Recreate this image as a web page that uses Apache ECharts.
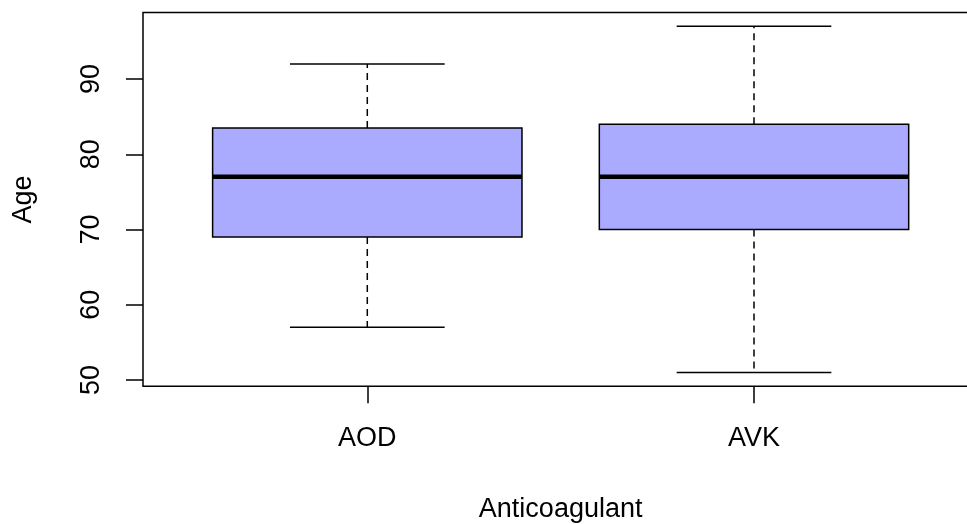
<!DOCTYPE html>
<html>
<head>
<meta charset="utf-8">
<script src="https://cdn.jsdelivr.net/npm/echarts@6/dist/echarts.min.js"></script>
<style>
  html, body { margin: 0; padding: 0; background: #fff; overflow: hidden; }
</style>
</head>
<body>
<!-- the plot frame runs past the right edge in the original, so the chart is a bit wider than the window -->
<div id="main" style="width:980px;height:524px;"></div>
<script>
// groups on the x axis (drawn at positions 1, 2)
const categories = ['AOD', 'AVK'];
// five-number summaries
const lowerWhisker = [57, 51];
const lowerQuartile = [69, 70];
const medians = [77, 77];
const upperQuartile = [83.5, 84];
const upperWhisker = [92, 97];
const yTicks = [50, 60, 70, 80, 90];

const font = '"Liberation Sans", Arial, sans-serif';

const boxData = categories.map(function (c, i) {
  return [i + 1, lowerWhisker[i], lowerQuartile[i], medians[i], upperQuartile[i], upperWhisker[i]];
});

function renderBox(params, api) {
  const x = api.value(0);
  const pMin = api.coord([x, api.value(1)]);
  const pQ1 = api.coord([x, api.value(2)]);
  const pMed = api.coord([x, api.value(3)]);
  const pQ3 = api.coord([x, api.value(4)]);
  const pMax = api.coord([x, api.value(5)]);
  const boxW = api.size([0.8, 0])[0];
  const capW = api.size([0.4, 0])[0];
  const cx = pMed[0];
  const dashed = { stroke: '#000', lineWidth: 1.5, lineDash: [7, 5] };
  const solid = { stroke: '#000', lineWidth: 1.5 };
  return {
    type: 'group',
    children: [
      { type: 'line', shape: { x1: cx, y1: pQ3[1], x2: cx, y2: pMax[1] }, style: dashed },
      { type: 'line', shape: { x1: cx, y1: pQ1[1], x2: cx, y2: pMin[1] }, style: dashed },
      { type: 'line', shape: { x1: cx - capW / 2, y1: pMax[1], x2: cx + capW / 2, y2: pMax[1] }, style: solid },
      { type: 'line', shape: { x1: cx - capW / 2, y1: pMin[1], x2: cx + capW / 2, y2: pMin[1] }, style: solid },
      { type: 'rect', shape: { x: cx - boxW / 2, y: pQ3[1], width: boxW, height: pQ1[1] - pQ3[1] },
        style: { fill: '#AAAAFF', stroke: '#000', lineWidth: 1.5 } },
      { type: 'line', shape: { x1: cx - boxW / 2, y1: pMed[1], x2: cx + boxW / 2, y2: pMed[1] },
        style: { stroke: '#000', lineWidth: 4.5 } }
    ]
  };
}

const chart = echarts.init(document.getElementById('main'));
chart.setOption({
  animation: false,
  backgroundColor: '#fff',
  grid: {
    left: 143, top: 12.5, right: 1.7, bottom: 137.7,
    outerBoundsMode: 'none',
    show: true, borderColor: '#000', borderWidth: 1.5, backgroundColor: 'transparent'
  },
  xAxis: {
    type: 'value',
    min: 0.42, max: 2.58,
    name: 'Anticoagulant',
    nameLocation: 'middle',
    nameGap: 110,
    nameTextStyle: { fontSize: 27, color: '#000', fontFamily: font },
    axisLine: { show: false },
    splitLine: { show: false },
    axisTick: { show: true, customValues: [1, 2], length: 17, lineStyle: { color: '#000', width: 1.5 } },
    axisLabel: {
      customValues: [1, 2],
      formatter: function (v) { return categories[Math.round(v) - 1]; },
      fontSize: 27, color: '#000', fontFamily: font, margin: 39
    }
  },
  yAxis: {
    type: 'value',
    min: 49.16, max: 98.84,
    name: 'Age',
    nameLocation: 'middle',
    nameGap: 106,
    nameRotate: 90,
    nameTextStyle: { fontSize: 27, color: '#000', fontFamily: font },
    axisLine: { show: false },
    splitLine: { show: false },
    axisTick: { show: true, customValues: yTicks, length: 17, lineStyle: { color: '#000', width: 1.5 } },
    axisLabel: {
      customValues: yTicks,
      rotate: 90,
      fontSize: 27, color: '#000', fontFamily: font, margin: 38
    }
  },
  series: [{
    type: 'custom',
    renderItem: renderBox,
    data: boxData,
    encode: { x: 0, y: [1, 2, 3, 4, 5] }
  }]
});
</script>
</body>
</html>
